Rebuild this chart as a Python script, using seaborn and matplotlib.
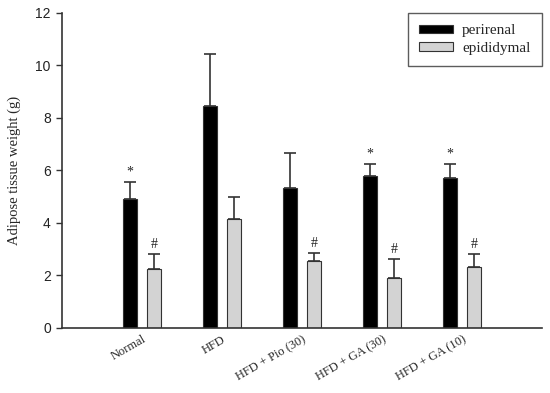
import matplotlib
matplotlib.use("Agg")
import matplotlib.pyplot as plt
import seaborn as sns
import pandas as pd
import numpy as np

groups = ["Normal", "HFD", "HFD + Pio (30)", "HFD + GA (30)", "HFD + GA (10)"]
series = ["perirenal", "epididymal"]
perirenal = [4.92, 8.46, 5.33, 5.78, 5.73]
perirenal_err = [0.64, 1.98, 1.34, 0.47, 0.52]
epididymal = [2.25, 4.16, 2.55, 1.90, 2.32]
epididymal_err = [0.57, 0.83, 0.30, 0.74, 0.50]
perirenal_marks = ["*", "", "", "*", "*"]
epididymal_marks = ["#", "", "#", "#", "#"]
yticks = [0, 2, 4, 6, 8, 10, 12]

df = pd.DataFrame({
    "group": groups * 2,
    "tissue": ["perirenal"] * 5 + ["epididymal"] * 5,
    "weight": perirenal + epididymal,
})

sns.set_theme(style="ticks")
plt.rcParams["font.family"] = ["Liberation Serif", "DejaVu Serif"]

fig = plt.figure(figsize=(5.5, 3.93), dpi=100)
ax = fig.add_axes([0.1127, 0.1654, 0.8728, 0.8016])

palette = {"perirenal": "#000000", "epididymal": "#d3d3d3"}
sns.barplot(data=df, x="group", y="weight", hue="tissue", order=groups,
            hue_order=series, palette=palette, errorbar=None, width=0.6,
            gap=0.4, edgecolor="#333333", linewidth=0.8, saturation=1, ax=ax)

errs = {"perirenal": perirenal_err, "epididymal": epididymal_err}
vals = {"perirenal": perirenal, "epididymal": epididymal}
marks = {"perirenal": perirenal_marks, "epididymal": epididymal_marks}
for cont, name in zip(ax.containers, series):
    xs = [p.get_x() + p.get_width() / 2 for p in cont.patches]
    v = np.array(vals[name])
    e = np.array(errs[name])
    ax.errorbar(xs, v, yerr=[np.zeros_like(e), e], fmt="none",
                ecolor="#333333", elinewidth=1.2, capsize=4.5, capthick=1.2, zorder=3)
    for x, top, m in zip(xs, v + e, marks[name]):
        if m:
            ax.text(x, top + 0.12, m, ha="center", va="bottom", fontsize=10,
                    color="#222222")

ax.set_xlim(-1, 5)
ax.set_ylim(0, 12)
ax.set_yticks(yticks)
ax.set_yticklabels([str(t) for t in yticks], family=["Liberation Sans", "DejaVu Sans"],
                   fontsize=10)
ax.tick_params(axis="y", direction="out", length=4, width=1, color="#333333",
               colors="#222222", pad=4)
ax.tick_params(axis="x", length=0, pad=4)
ax.set_xlabel("")
ax.set_ylabel("Adipose tissue weight (g)", fontsize=10.5, labelpad=10)
for lab in ax.get_xticklabels():
    lab.set_rotation(30)
    lab.set_ha("right")
    lab.set_rotation_mode("anchor")
    lab.set_fontsize(9)
sns.despine(ax=ax)
for s in ["left", "bottom"]:
    ax.spines[s].set_linewidth(1.2)
    ax.spines[s].set_color("#333333")

leg = ax.legend(loc="upper right", bbox_to_anchor=(1.0, 1.0), frameon=True,
                fancybox=False, edgecolor="#333333", fontsize=11,
                handlelength=2.2, handleheight=0.5, borderpad=0.75,
                labelspacing=0.3, handletextpad=0.6, borderaxespad=0)
leg.get_frame().set_linewidth(1.0)

fig.savefig("out.png", dpi=100)
